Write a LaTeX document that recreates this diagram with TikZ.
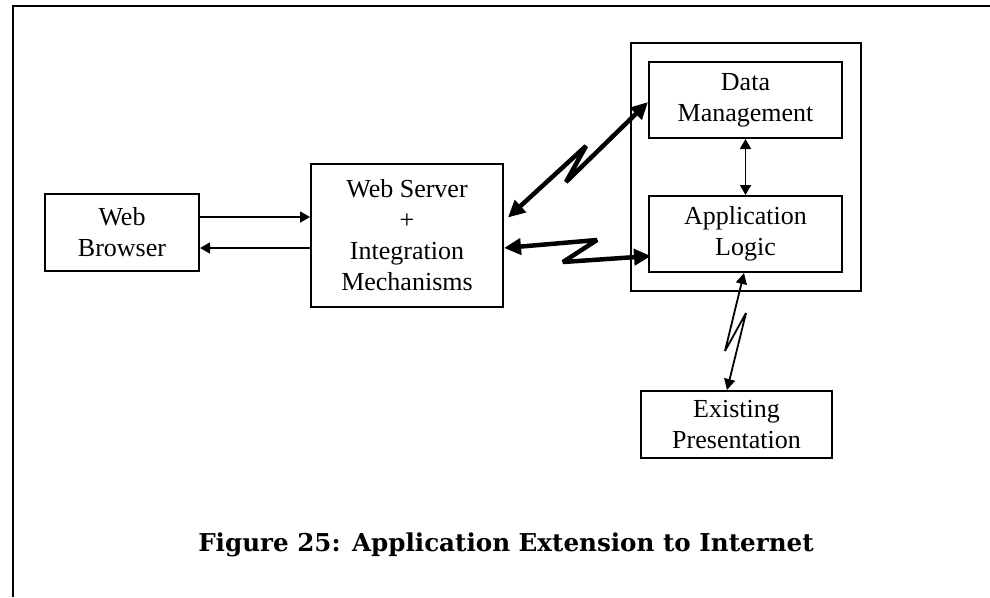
\documentclass[tikz,border=0pt]{standalone}
\usepackage{fontspec}
\setmainfont{Liberation Serif}
\newfontfamily\captionfont{DejaVu Serif}
\usetikzlibrary{arrows.meta,positioning}
\tikzset{
    % Component box
    block/.style={draw,line width=2pt,align=center,inner sep=0pt,font=\fontsize{26}{31}\selectfont},
    % Plain link between boxes
    thinlink/.style={-{Triangle[length=10pt,width=11pt]},line width=1.8pt},
    % Two-way plain link
    bothlink/.style={{Triangle[length=10pt,width=11pt]}-{Triangle[length=10pt,width=11pt]},line width=1.8pt},
    % Remote link (lightning)
    remotelink/.style={{Triangle[length=17pt,width=16pt]}-{Triangle[length=17pt,width=16pt]},line width=4.5pt,line join=miter,miter limit=3},
    % Thin remote link
    thinremote/.style={{Triangle[length=11pt,width=11pt]}-{Triangle[length=11pt,width=11pt]},line width=1.8pt,line join=miter,miter limit=3}
}
\begin{document}
\begin{tikzpicture}[x=1pt,y=-1pt]
    \useasboundingbox (0,0) rectangle (990,597);

    % Page frame
    \draw[line width=1.8pt] (990,6) -- (13,6) -- (13,597);

    % Client side
    \node[block,minimum width=154pt,minimum height=77pt] (browser) at (122,232.5) {Web\\Browser};
    \node[block,minimum width=192pt,minimum height=143pt] (server) at (407,235.5) {Web Server\\+\\Integration\\Mechanisms};

    % Host application
    \node[draw,line width=2pt,minimum width=230.5pt,minimum height=248pt] (host) at (745.75,167) {};
    \node[block,minimum width=193pt,minimum height=76pt] (data) at (745.5,100) {Data\\Management};
    \node[block,minimum width=193pt,minimum height=76pt] (logic) at (745.5,234) {Application\\Logic};
    \node[block,minimum width=191pt,minimum height=67pt] (existing) at (736.5,424.5) {Existing\\Presentation};

    % Browser <-> server
    \draw[thinlink] ([yshift=15.5pt]browser.east) -- ([yshift=15.5pt]browser.east -| server.west);
    \draw[thinlink] ([yshift=-12.5pt]server.west) -- ([yshift=-12.5pt]server.west -| browser.east);

    % Data <-> logic
    \draw[bothlink] (data.south) -- (logic.north);

    % Lightning bends
    \coordinate (dmbendA) at (586,146);
    \coordinate (dmbendB) at (566,182);
    \coordinate (albendA) at (597,240);
    \coordinate (albendB) at (563,262);
    \coordinate (epbendA) at (725,351);
    \coordinate (epbendB) at (746,313);

    % Server <-> host
    \draw[remotelink] ([shift={(4pt,18pt)}]server.east) -- (dmbendA) -- (dmbendB) -- ([yshift=-2pt]data.west);
    \draw[remotelink] ([yshift=-12.5pt]server.east) -- (albendA) -- (albendB) -- ([shift={(3pt,-22pt)}]logic.west);

    % Logic <-> existing presentation
    \draw[thinremote] ([xshift=-1.5pt]logic.south) -- (epbendA) -- (epbendB) -- ([xshift=-9.5pt]existing.north);

    % Caption
    \node[font=\captionfont\bfseries\fontsize{24.6}{29}\selectfont] (caption) at (506,544.5) {Figure 25: Application Extension to Internet};
\end{tikzpicture}
\end{document}
